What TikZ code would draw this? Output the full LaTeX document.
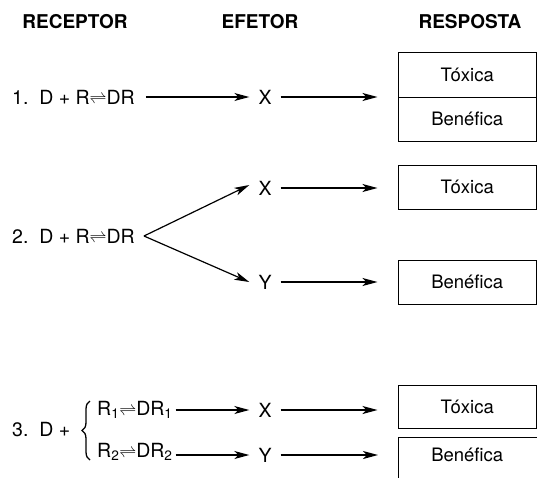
\documentclass[tikz,border=0pt]{standalone}
\usepackage{fontspec}
\setmainfont{TeX Gyre Heros}
\usetikzlibrary{arrows.meta,decorations.pathreplacing}
\newcommand{\eqsym}{{\fontsize{17}{17}\selectfont$\rightleftharpoons$}}
\begin{document}
\begin{tikzpicture}[x=1pt,y=-1pt,
  hdr/.style={font=\fontsize{19}{20}\selectfont\bfseries, inner sep=0pt},
  txt/.style={font=\fontsize{19.5}{20}\selectfont, inner sep=0pt, anchor=west},
  eff/.style={font=\fontsize{19.5}{20}\selectfont, inner xsep=9pt, inner ysep=0pt},
  resp/.style={draw, line width=1pt, font=\fontsize{18.5}{20}\selectfont, minimum width=138.5pt, inner sep=0pt},
  plain/.style={font=\fontsize{18.5}{20}\selectfont, inner sep=0pt},
  arr/.style={line width=1.2pt, -{Stealth[length=15pt,width=8pt,inset=4pt]}},
  toresp/.style={arr, shorten >=20pt},
]
\useasboundingbox (0,0) rectangle (537,477);
\fill[white] (0,0) rectangle (537,477);

% headers
\node[hdr] (hR) at (75,22) {RECEPTOR};
\node[hdr] (hE) at (260,22) {EFETOR};
\node[hdr] (hS) at (470,22) {RESPOSTA};

% row 1
\node[txt] (eq1) at (12,97) {1.\ \ D + R\eqsym DR};
\node[eff] (X1) at (265,97) {X};
\node[resp, minimum height=45pt] (T1) at (467.25,74.5) {Tóxica};
\node[resp, minimum height=44pt] (B1) at (467.25,119) {Benéfica};
\draw[arr] ([xshift=11pt]eq1.east) -- (X1.west);
\draw[toresp] (X1.east) -- (T1.west |- X1.east);

% row 2
\node[txt] (eq2) at (12,236) {2.\ \ D + R\eqsym DR};
\coordinate (b2) at ([xshift=9pt]eq2.east);
\node[eff] (X2) at (265,188) {X};
\node[eff] (Y2) at (265,282) {Y};
\node[resp, minimum height=44pt] (T2) at (467.25,187) {Tóxica};
\node[resp, minimum height=44pt] (B2) at (467.25,282) {Benéfica};
\draw[arr] (b2) -- ([yshift=3pt]X2.west);
\draw[arr] (b2) -- (Y2.west);
\draw[toresp] (X2.east) -- (T2.west |- X2.east);
\draw[toresp] (Y2.east) -- (B2.west |- Y2.east);

% row 3
\node[txt] (eq3) at (12,430) {3.\ \ D +};
\draw[decorate, decoration={brace, amplitude=8pt, aspect=0.5}, line width=1.3pt] (90,460) -- (90,401);
\node[txt] (r1) at (97,410) {R\textsubscript{1}\eqsym DR\textsubscript{1}};
\node[txt] (r2) at (97,452) {R\textsubscript{2}\eqsym DR\textsubscript{2}};
\node[eff] (X3) at (265,410) {X};
\node[eff] (Y3) at (265,455) {Y};
\node[resp, minimum height=43pt] (T3) at (467.25,406.5) {Tóxica};
\node[resp, minimum height=48pt, anchor=north west] (B3) at (398,437) {};
\node[plain] (B3t) at (467.25,455) {Benéfica};
\draw[arr] ([xshift=3pt]r1.east) -- (X3.west);
\draw[arr] ([xshift=3pt]r2.east |- Y3.west) -- (Y3.west);
\draw[toresp] (X3.east) -- (T3.west |- X3.east);
\draw[toresp] (Y3.east) -- (B3.west |- Y3.east);
\end{tikzpicture}
\end{document}
